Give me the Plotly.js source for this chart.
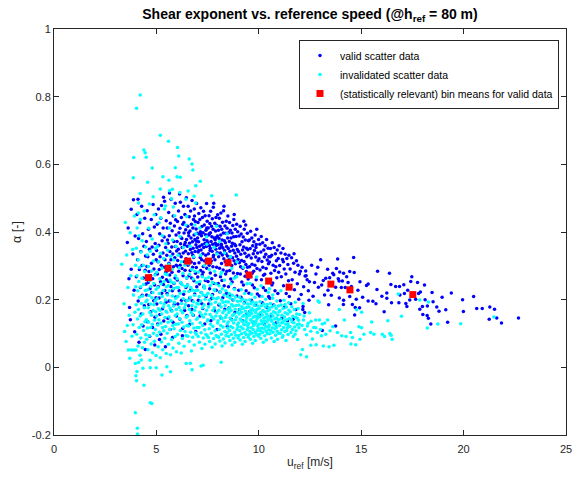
<!DOCTYPE html>
<html>
<head>
<meta charset="utf-8">
<script src="https://cdn.plot.ly/plotly-3.0.1.min.js"></script>
<style>html,body{margin:0;padding:0;background:#fff;}#chart{width:572px;height:481px;}</style>
</head>
<body>
<div id="chart"></div>
<script>
// ---- data ----
const xTickVals = [0, 5, 10, 15, 20, 25];
const yTickVals = [-0.2, 0, 0.2, 0.4, 0.6, 0.8, 1];
const yTickText = ['-0.2', '0', '0.2', '0.4', '0.6', '0.8', '1'];

// bin means (statistically relevant, valid data)
const binU = [4.61, 5.57, 6.53, 7.54, 8.50, 9.52, 10.48, 11.48, 13.52, 14.45, 17.52];
const binAlpha = [0.265, 0.293, 0.314, 0.314, 0.309, 0.273, 0.255, 0.237, 0.246, 0.229, 0.215];

// valid scatter data [u, alpha] - main cloud
const validMain = [
[3.58,0.369],[3.77,0.467],[3.77,0.290],[3.69,0.177],[3.62,0.412],[3.85,0.335],[3.91,0.228],[3.73,0.141],[3.96,0.388],[3.88,0.495],[3.66,0.262],[3.94,0.105],
[4.02,0.268],[4.05,0.452],[4.08,0.318],[4.11,0.196],[4.13,0.381],[4.15,0.074],[4.17,0.289],[4.19,0.427],[4.22,0.236],[4.24,0.342],[4.26,0.158],[4.28,0.476],[4.30,0.301],[4.31,0.213],[4.33,0.395],[4.35,0.122],[4.37,0.264],[4.39,0.358],[4.41,0.182],[4.43,0.441],[4.45,0.287],[4.46,0.053],[4.47,0.329],[4.49,0.246],[4.10,0.497],
[4.51,0.372],[4.52,0.214],[4.54,0.298],[4.55,0.463],[4.57,0.135],[4.58,0.327],[4.60,0.251],[4.61,0.408],[4.63,0.186],[4.64,0.283],[4.66,0.349],[4.67,0.092],[4.69,0.232],[4.70,0.389],[4.72,0.271],[4.73,0.164],[4.75,0.437],[4.76,0.308],[4.78,0.221],[4.79,0.356],[4.81,0.118],[4.82,0.262],[4.84,0.481],[4.85,0.334],[4.87,0.197],[4.88,0.291],[4.90,0.415],[4.91,0.243],[4.93,0.148],[4.94,0.366],[4.96,0.275],[4.97,0.452],[4.98,0.206],[4.99,0.318],[4.92,0.066],
[5.01,0.345],[5.02,0.187],[5.04,0.423],[5.05,0.276],[5.06,0.128],[5.08,0.312],[5.09,0.238],[5.10,0.468],[5.12,0.361],[5.13,0.205],[5.14,0.289],[5.16,0.395],[5.17,0.156],[5.18,0.327],[5.20,0.253],[5.21,0.441],[5.22,0.098],[5.24,0.302],[5.25,0.478],[5.26,0.219],[5.28,0.374],[5.29,0.266],[5.30,0.173],[5.32,0.338],[5.33,0.412],[5.34,0.245],[5.36,0.137],[5.37,0.296],[5.38,0.385],[5.40,0.491],[5.41,0.227],[5.42,0.318],[5.44,0.061],[5.45,0.354],[5.46,0.281],[5.47,0.192],[5.48,0.433],[5.49,0.259],[5.35,0.503],[5.15,0.082],
[5.51,0.331],[5.52,0.218],[5.53,0.412],[5.55,0.287],[5.56,0.145],[5.57,0.367],[5.58,0.254],[5.60,0.458],[5.61,0.308],[5.62,0.196],[5.63,0.389],[5.65,0.273],[5.66,0.342],[5.67,0.112],[5.68,0.426],[5.70,0.239],[5.71,0.318],[5.72,0.497],[5.73,0.168],[5.75,0.356],[5.76,0.281],[5.77,0.404],[5.78,0.226],[5.80,0.335],[5.81,0.133],[5.82,0.447],[5.83,0.297],[5.85,0.372],[5.86,0.248],[5.87,0.186],[5.88,0.418],[5.90,0.324],[5.91,0.264],[5.92,0.485],[5.93,0.357],[5.95,0.208],[5.96,0.391],[5.97,0.302],[5.98,0.152],[5.99,0.344],[5.64,0.515],[5.79,0.088],[5.94,0.436],[5.54,0.376],[5.84,0.232],
[6.01,0.372],[6.02,0.258],[6.03,0.431],[6.04,0.316],[6.05,0.187],[6.07,0.349],[6.08,0.462],[6.09,0.284],[6.10,0.398],[6.11,0.226],[6.12,0.335],[6.14,0.143],[6.15,0.411],[6.16,0.302],[6.17,0.488],[6.18,0.365],[6.19,0.249],[6.21,0.327],[6.22,0.443],[6.23,0.198],[6.24,0.381],[6.25,0.292],[6.26,0.354],[6.28,0.115],[6.29,0.423],[6.30,0.271],[6.31,0.338],[6.32,0.476],[6.33,0.216],[6.35,0.397],[6.36,0.312],[6.37,0.362],[6.38,0.168],[6.39,0.452],[6.40,0.287],[6.42,0.343],[6.43,0.407],[6.44,0.236],[6.45,0.321],[6.46,0.501],[6.47,0.378],[6.48,0.264],[6.49,0.153],[6.13,0.512],[6.27,0.093],[6.34,0.428],[6.41,0.369],[6.06,0.297],[6.20,0.384],[6.44,0.197],
[6.51,0.358],[6.52,0.243],[6.53,0.417],[6.54,0.302],[6.55,0.476],[6.56,0.336],[6.57,0.182],[6.58,0.389],[6.59,0.271],[6.60,0.445],[6.61,0.318],[6.62,0.367],[6.63,0.127],[6.64,0.403],[6.65,0.286],[6.66,0.348],[6.67,0.462],[6.68,0.229],[6.69,0.382],[6.70,0.311],[6.71,0.423],[6.72,0.264],[6.73,0.339],[6.74,0.493],[6.75,0.197],[6.76,0.371],[6.77,0.296],[6.78,0.412],[6.79,0.352],[6.80,0.154],[6.81,0.437],[6.82,0.325],[6.83,0.256],[6.84,0.391],[6.85,0.468],[6.86,0.307],[6.87,0.217],[6.88,0.378],[6.89,0.342],[6.90,0.431],[6.91,0.278],[6.92,0.106],[6.93,0.362],[6.94,0.409],[6.95,0.295],[6.96,0.484],[6.97,0.238],[6.98,0.354],[6.99,0.396],[6.62,0.205],[6.73,0.172],[6.86,0.447],[6.57,0.398],[6.78,0.331],[6.95,0.373],
[7.01,0.382],[7.02,0.267],[7.03,0.428],[7.04,0.341],[7.05,0.198],[7.06,0.371],[7.07,0.455],[7.08,0.309],[7.09,0.394],[7.10,0.246],[7.11,0.358],[7.12,0.437],[7.13,0.152],[7.14,0.325],[7.15,0.401],[7.16,0.286],[7.17,0.472],[7.18,0.347],[7.19,0.221],[7.20,0.389],[7.21,0.318],[7.22,0.416],[7.23,0.362],[7.24,0.273],[7.25,0.443],[7.26,0.174],[7.27,0.336],[7.28,0.398],[7.29,0.298],[7.30,0.461],[7.31,0.354],[7.32,0.238],[7.33,0.377],[7.34,0.421],[7.35,0.314],[7.36,0.128],[7.37,0.366],[7.38,0.448],[7.39,0.257],[7.40,0.392],[7.41,0.331],[7.42,0.405],[7.43,0.209],[7.44,0.357],[7.45,0.484],[7.46,0.293],[7.47,0.374],[7.48,0.432],[7.49,0.319],[7.07,0.345],[7.18,0.396],[7.28,0.281],[7.39,0.365],[7.22,0.188],[7.46,0.412],
[7.51,0.368],[7.52,0.254],[7.53,0.412],[7.54,0.336],[7.55,0.187],[7.56,0.391],[7.57,0.448],[7.58,0.302],[7.59,0.359],[7.60,0.232],[7.61,0.425],[7.62,0.345],[7.63,0.279],[7.64,0.398],[7.65,0.461],[7.66,0.138],[7.67,0.372],[7.68,0.314],[7.69,0.417],[7.70,0.262],[7.71,0.386],[7.72,0.343],[7.73,0.439],[7.74,0.215],[7.75,0.364],[7.76,0.297],[7.77,0.408],[7.78,0.473],[7.79,0.331],[7.80,0.485],[7.81,0.248],[7.82,0.382],[7.83,0.354],[7.84,0.167],[7.85,0.426],[7.86,0.318],[7.87,0.377],[7.88,0.272],[7.89,0.403],[7.90,0.349],[7.91,0.443],[7.92,0.228],[7.93,0.361],[7.94,0.296],[7.95,0.419],[7.96,0.112],[7.97,0.339],[7.98,0.388],[7.99,0.451],[7.58,0.395],[7.68,0.203],[7.78,0.326],[7.88,0.367],[7.63,0.352],[7.93,0.384],
[8.01,0.362],[8.02,0.248],[8.03,0.405],[8.04,0.327],[8.05,0.184],[8.06,0.381],[8.07,0.441],[8.08,0.293],[8.09,0.352],[8.10,0.223],[8.11,0.417],[8.12,0.338],[8.13,0.268],[8.14,0.391],[8.15,0.456],[8.16,0.146],[8.17,0.364],[8.18,0.307],[8.19,0.408],[8.20,0.257],[8.21,0.376],[8.22,0.332],[8.23,0.429],[8.24,0.206],[8.25,0.353],[8.26,0.288],[8.27,0.397],[8.28,0.463],[8.29,0.321],[8.31,0.241],[8.32,0.374],[8.33,0.345],[8.34,0.172],[8.35,0.418],[8.36,0.312],[8.37,0.368],[8.38,0.276],[8.39,0.396],[8.40,0.336],[8.41,0.432],[8.42,0.219],[8.43,0.357],[8.44,0.284],[8.45,0.411],[8.46,0.121],[8.47,0.329],[8.48,0.382],[8.49,0.447],[8.30,0.476],[8.18,0.358],
[8.51,0.351],[8.52,0.238],[8.53,0.398],[8.54,0.318],[8.55,0.176],[8.56,0.372],[8.57,0.428],[8.58,0.286],[8.59,0.343],[8.60,0.214],[8.61,0.405],[8.62,0.327],[8.63,0.261],[8.64,0.382],[8.66,0.142],[8.67,0.358],[8.68,0.301],[8.69,0.397],[8.70,0.252],[8.71,0.367],[8.72,0.324],[8.73,0.419],[8.74,0.199],[8.75,0.346],[8.76,0.279],[8.77,0.386],[8.78,0.437],[8.79,0.315],[8.81,0.233],[8.82,0.364],[8.83,0.338],[8.84,0.163],[8.85,0.408],[8.86,0.306],[8.87,0.359],[8.88,0.268],[8.89,0.387],[8.91,0.328],[8.92,0.423],[8.93,0.211],[8.95,0.348],[8.96,0.277],[8.97,0.401],[8.99,0.319],[8.80,0.452],
[9.01,0.342],[9.02,0.228],[9.04,0.388],[9.05,0.309],[9.06,0.171],[9.08,0.362],[9.09,0.417],[9.10,0.276],[9.12,0.334],[9.13,0.207],[9.14,0.394],[9.16,0.316],[9.17,0.252],[9.18,0.371],[9.20,0.138],[9.21,0.347],[9.22,0.293],[9.24,0.385],[9.25,0.243],[9.26,0.356],[9.28,0.313],[9.29,0.408],[9.30,0.191],[9.32,0.337],[9.33,0.269],[9.34,0.376],[9.36,0.421],[9.37,0.304],[9.38,0.226],[9.40,0.352],[9.41,0.327],[9.42,0.157],[9.44,0.396],[9.45,0.296],[9.46,0.348],[9.48,0.261],[9.49,0.374],[9.27,0.432],[9.11,0.297],[9.39,0.283],
[9.51,0.331],[9.52,0.219],[9.54,0.376],[9.55,0.297],[9.57,0.166],[9.58,0.351],[9.60,0.402],[9.61,0.268],[9.63,0.323],[9.64,0.198],[9.66,0.382],[9.67,0.305],[9.69,0.243],[9.70,0.359],[9.72,0.133],[9.73,0.336],[9.75,0.284],[9.76,0.371],[9.78,0.235],[9.79,0.345],[9.81,0.302],[9.82,0.391],[9.84,0.184],[9.85,0.326],[9.87,0.259],[9.88,0.363],[9.90,0.408],[9.91,0.292],[9.93,0.217],[9.94,0.338],[9.96,0.315],[9.97,0.151],[9.99,0.378],[9.68,0.278],[9.86,0.354],
[10.01,0.321],[10.03,0.211],[10.05,0.364],[10.06,0.288],[10.08,0.158],[10.10,0.341],[10.12,0.387],[10.13,0.259],[10.15,0.313],[10.17,0.191],[10.19,0.368],[10.20,0.296],[10.22,0.235],[10.24,0.347],[10.26,0.127],[10.27,0.326],[10.29,0.275],[10.31,0.359],[10.33,0.227],[10.34,0.334],[10.36,0.292],[10.38,0.378],[10.40,0.177],[10.41,0.317],[10.43,0.251],[10.45,0.352],[10.47,0.306],[10.48,0.209],[10.49,0.327],[10.23,0.272],
[10.52,0.311],[10.54,0.204],[10.57,0.351],[10.59,0.278],[10.61,0.152],[10.63,0.331],[10.66,0.368],[10.68,0.249],[10.70,0.302],[10.72,0.184],[10.75,0.354],[10.77,0.286],[10.79,0.226],[10.81,0.336],[10.84,0.131],[10.86,0.315],[10.88,0.265],[10.90,0.347],[10.93,0.218],[10.95,0.322],[10.97,0.281],[10.99,0.359],[10.64,0.243],[10.83,0.297],[10.56,0.327],
[11.02,0.301],[11.05,0.197],[11.08,0.338],[11.10,0.268],[11.13,0.146],[11.16,0.319],[11.18,0.351],[11.21,0.241],[11.24,0.291],[11.26,0.178],[11.29,0.334],[11.32,0.276],[11.34,0.218],[11.37,0.322],[11.40,0.138],[11.42,0.304],[11.45,0.256],[11.47,0.331],[11.49,0.209],[11.20,0.312],
[11.53,0.291],[11.56,0.188],[11.60,0.324],[11.63,0.259],[11.67,0.142],[11.70,0.308],[11.74,0.229],[11.77,0.281],[11.81,0.171],[11.84,0.315],[11.88,0.247],[11.91,0.302],[11.95,0.201],[11.98,0.276],[11.72,0.336],
[12.03,0.284],[12.07,0.215],[12.11,0.296],[12.19,0.238],[12.24,0.162],[12.31,0.271],[12.42,0.226],[12.47,0.253]
];

// valid scatter data [u, alpha] - high-speed tail
const validTail = [
[14.63,0.325],[13.85,0.320],[12.88,0.296],[12.29,0.285],[13.36,0.290],[13.79,0.292],[13.61,0.278],[13.95,0.282],[14.14,0.278],[14.44,0.283],[14.66,0.280],[15.80,0.284],[16.38,0.278],[12.26,0.270],[12.36,0.259],[13.15,0.257],[13.27,0.263],[13.46,0.265],[13.66,0.274],[13.92,0.255],[14.08,0.255],[14.29,0.268],[14.94,0.253],[15.26,0.242],[15.34,0.246],[16.45,0.245],[16.68,0.239],[16.87,0.239],[17.08,0.244],[17.47,0.268],[17.42,0.254],[17.75,0.251],[18.09,0.243],[12.91,0.237],[13.07,0.243],[13.38,0.228],[13.75,0.237],[14.03,0.236],[14.22,0.236],[14.84,0.228],[15.77,0.230],[16.25,0.220],[16.01,0.210],[16.89,0.214],[17.11,0.218],[17.27,0.228],[17.80,0.218],[17.89,0.223],[18.46,0.221],[12.65,0.210],[13.54,0.213],[13.93,0.205],[14.14,0.198],[14.44,0.209],[14.76,0.201],[15.07,0.207],[15.34,0.196],[15.57,0.195],[16.25,0.204],[16.48,0.191],[16.84,0.191],[17.18,0.189],[17.37,0.199],[17.66,0.201],[18.12,0.200],[18.51,0.194],[18.95,0.207],[19.40,0.220],[19.95,0.200],[20.49,0.209],[12.16,0.180],[13.41,0.185],[14.13,0.186],[14.57,0.186],[14.71,0.177],[14.92,0.176],[15.72,0.188],[16.12,0.164],[17.23,0.180],[17.86,0.172],[17.99,0.180],[18.23,0.181],[18.69,0.178],[18.80,0.166],[19.13,0.170],[19.99,0.165],[20.64,0.174],[20.91,0.174],[21.28,0.178],[21.51,0.172],[14.68,0.155],[18.01,0.156],[18.22,0.153],[18.28,0.145],[18.40,0.128],[19.22,0.133],[21.25,0.142],[21.62,0.146],[21.85,0.131],[22.68,0.146],[13.75,0.122],[13.10,0.109],[12.15,0.171],
[12.58,0.302],[12.72,0.251],[13.02,0.318],[13.21,0.214],[13.57,0.246],[13.88,0.262],[14.36,0.251],[14.52,0.239],[12.45,0.198],[12.79,0.276]
];

// invalidated scatter data [u, alpha] - main band
const invalidMain = [
[3.31,0.305],[3.48,0.428],[3.61,0.236],[3.42,0.188],[3.55,0.332],[3.67,0.154],[3.72,0.398],[3.75,0.271],[3.81,0.092],[3.84,0.348],[3.88,0.214],[3.93,0.447],[3.95,0.163],[3.98,0.302],[3.52,0.076],[3.70,0.027],[3.86,0.126],[3.99,0.238],
[4.01,0.185],[4.02,0.352],[4.04,0.098],[4.05,0.271],[4.06,0.412],[4.08,0.143],[4.09,0.226],[4.10,0.063],[4.11,0.318],[4.12,0.171],[4.14,0.254],[4.15,0.389],[4.16,0.118],[4.17,0.207],[4.18,0.295],[4.20,0.036],[4.21,0.152],[4.22,0.437],[4.23,0.238],[4.24,0.087],[4.25,0.341],[4.27,0.189],[4.28,0.126],[4.29,0.263],[4.30,0.374],[4.32,0.058],[4.33,0.211],[4.34,0.158],[4.36,0.302],[4.37,0.109],[4.38,0.245],[4.40,0.462],[4.41,0.176],[4.42,0.074],[4.43,0.283],[4.44,0.135],[4.46,0.227],[4.47,0.356],[4.48,0.096],[4.49,0.194],
[4.51,0.141],[4.52,0.267],[4.53,0.083],[4.54,0.198],[4.55,0.332],[4.56,0.116],[4.58,0.229],[4.59,0.052],[4.60,0.176],[4.61,0.298],[4.62,0.134],[4.63,0.411],[4.64,0.212],[4.65,0.093],[4.66,0.256],[4.68,0.162],[4.69,0.021],[4.70,0.343],[4.71,0.187],[4.72,0.118],[4.73,0.239],[4.74,0.069],[4.76,0.154],[4.77,0.285],[4.78,0.206],[4.79,0.379],[4.80,0.127],[4.81,0.043],[4.83,0.221],[4.84,0.168],[4.85,0.314],[4.86,0.101],[4.87,0.248],[4.88,0.185],[4.89,0.451],[4.90,0.077],[4.91,0.139],[4.93,0.273],[4.94,0.196],[4.95,0.112],[4.96,0.352],[4.97,0.164],[4.98,0.035],[4.99,0.231],[4.57,0.547],
[5.01,0.152],[5.02,0.281],[5.03,0.094],[5.04,0.203],[5.05,0.357],[5.07,0.125],[5.08,0.236],[5.09,0.061],[5.10,0.173],[5.11,0.312],[5.12,0.141],[5.13,0.427],[5.14,0.218],[5.15,0.104],[5.17,0.262],[5.18,0.169],[5.19,0.028],[5.20,0.337],[5.21,0.191],[5.22,0.131],[5.23,0.246],[5.25,0.075],[5.26,0.158],[5.27,0.293],[5.28,0.209],[5.29,0.389],[5.30,0.118],[5.31,0.052],[5.33,0.227],[5.34,0.178],[5.35,0.322],[5.36,0.108],[5.37,0.254],[5.38,0.187],[5.39,0.468],[5.41,0.086],[5.42,0.147],[5.43,0.276],[5.44,0.199],[5.45,0.121],[5.46,0.365],[5.47,0.166],[5.48,0.041],[5.49,0.238],[5.32,0.563],
[5.51,0.163],[5.52,0.274],[5.53,0.101],[5.54,0.214],[5.55,0.346],[5.57,0.133],[5.58,0.241],[5.59,0.068],[5.60,0.182],[5.61,0.305],[5.62,0.149],[5.63,0.412],[5.64,0.226],[5.65,0.112],[5.67,0.258],[5.68,0.174],[5.69,0.037],[5.70,0.328],[5.71,0.197],[5.72,0.138],[5.73,0.252],[5.75,0.082],[5.76,0.166],[5.77,0.289],[5.78,0.211],[5.79,0.376],[5.80,0.124],[5.81,0.057],[5.83,0.232],[5.84,0.181],[5.85,0.317],[5.86,0.114],[5.87,0.249],[5.88,0.192],[5.89,0.448],[5.91,0.091],[5.92,0.153],[5.93,0.271],[5.94,0.204],[5.95,0.127],[5.96,0.358],[5.97,0.171],[5.98,0.046],[5.99,0.236],[5.74,0.498],
[6.01,0.158],[6.02,0.262],[6.03,0.097],[6.05,0.209],[6.06,0.331],[6.07,0.128],[6.08,0.236],[6.10,0.071],[6.11,0.177],[6.12,0.294],[6.13,0.144],[6.15,0.387],[6.16,0.219],[6.17,0.109],[6.18,0.251],[6.20,0.168],[6.21,0.042],[6.22,0.312],[6.23,0.189],[6.25,0.133],[6.26,0.244],[6.27,0.085],[6.28,0.161],[6.30,0.278],[6.31,0.203],[6.32,0.354],[6.33,0.119],[6.35,0.062],[6.36,0.224],[6.37,0.176],[6.38,0.302],[6.40,0.106],[6.41,0.239],[6.42,0.185],[6.43,0.421],[6.45,0.094],[6.46,0.148],[6.47,0.265],[6.48,0.197],[6.49,0.124],
[6.51,0.151],[6.52,0.243],[6.53,0.092],[6.55,0.198],[6.56,0.306],[6.57,0.122],[6.58,0.224],[6.60,0.076],[6.61,0.171],[6.62,0.275],[6.63,0.138],[6.65,0.358],[6.66,0.207],[6.67,0.104],[6.68,0.236],[6.70,0.162],[6.71,0.048],[6.72,0.289],[6.73,0.183],[6.75,0.129],[6.76,0.228],[6.77,0.089],[6.78,0.155],[6.80,0.261],[6.81,0.194],[6.82,0.327],[6.83,0.116],[6.85,0.066],[6.86,0.213],[6.87,0.169],[6.88,0.284],[6.90,0.102],[6.91,0.226],[6.92,0.178],[6.93,0.395],[6.95,0.098],[6.96,0.142],[6.97,0.251],[6.98,0.189],[6.99,0.118],
[7.01,0.146],[7.02,0.228],[7.04,0.091],[7.05,0.187],[7.06,0.282],[7.08,0.118],[7.09,0.209],[7.10,0.074],[7.12,0.163],[7.13,0.254],[7.14,0.132],[7.16,0.331],[7.17,0.196],[7.18,0.102],[7.20,0.221],[7.21,0.155],[7.22,0.056],[7.24,0.268],[7.25,0.176],[7.26,0.124],[7.28,0.214],[7.29,0.087],[7.30,0.149],[7.32,0.241],[7.33,0.184],[7.34,0.302],[7.36,0.111],[7.37,0.068],[7.38,0.201],[7.40,0.158],[7.41,0.262],[7.42,0.097],[7.44,0.213],[7.45,0.169],[7.46,0.364],[7.48,0.093],[7.49,0.137],[7.35,0.234],
[7.51,0.141],[7.52,0.219],[7.54,0.088],[7.55,0.178],[7.56,0.266],[7.58,0.114],[7.59,0.198],[7.60,0.076],[7.62,0.156],[7.63,0.242],[7.64,0.127],[7.66,0.308],[7.67,0.187],[7.68,0.101],[7.70,0.212],[7.71,0.149],[7.72,0.059],[7.74,0.251],[7.75,0.168],[7.76,0.121],[7.78,0.204],[7.79,0.085],[7.80,0.143],[7.82,0.229],[7.83,0.176],[7.84,0.284],[7.86,0.108],[7.87,0.069],[7.88,0.192],[7.90,0.152],[7.91,0.247],[7.92,0.094],[7.94,0.203],[7.95,0.162],[7.96,0.335],[7.98,0.091],[7.99,0.131],[7.85,0.226],
[8.01,0.138],[8.02,0.206],[8.04,0.089],[8.05,0.169],[8.06,0.241],[8.07,0.112],[8.09,0.187],[8.10,0.078],[8.11,0.151],[8.12,0.223],[8.14,0.124],[8.15,0.276],[8.16,0.178],[8.17,0.098],[8.19,0.199],[8.20,0.144],[8.21,0.063],[8.22,0.232],[8.24,0.161],[8.25,0.119],[8.26,0.192],[8.27,0.084],[8.29,0.136],[8.30,0.214],[8.31,0.167],[8.32,0.258],[8.34,0.106],[8.35,0.072],[8.36,0.183],[8.37,0.147],[8.39,0.226],[8.40,0.093],[8.41,0.194],[8.42,0.155],[8.44,0.302],[8.45,0.102],[8.46,0.128],[8.47,0.209],[8.49,0.171],[8.48,0.116],
[8.51,0.134],[8.52,0.193],[8.53,0.091],[8.54,0.162],[8.56,0.218],[8.57,0.109],[8.58,0.176],[8.59,0.079],[8.60,0.146],[8.61,0.204],[8.63,0.121],[8.64,0.247],[8.65,0.168],[8.66,0.097],[8.67,0.186],[8.69,0.139],[8.70,0.066],[8.71,0.213],[8.72,0.154],[8.73,0.117],[8.75,0.181],[8.76,0.086],[8.77,0.131],[8.78,0.199],[8.80,0.158],[8.81,0.231],[8.82,0.104],[8.83,0.074],[8.85,0.172],[8.86,0.141],[8.87,0.208],[8.88,0.095],[8.90,0.183],[8.91,0.149],[8.92,0.268],[8.93,0.112],[8.95,0.126],[8.96,0.195],[8.97,0.163],[8.98,0.119],[8.99,0.087],[8.68,0.292],
[9.01,0.131],[9.02,0.184],[9.03,0.094],[9.04,0.158],[9.06,0.207],[9.07,0.108],[9.08,0.171],[9.09,0.081],[9.10,0.143],[9.11,0.196],[9.13,0.119],[9.14,0.229],[9.15,0.163],[9.16,0.099],[9.17,0.179],[9.19,0.136],[9.20,0.068],[9.21,0.201],[9.22,0.151],[9.23,0.114],[9.25,0.174],[9.26,0.088],[9.27,0.128],[9.28,0.189],[9.30,0.154],[9.31,0.218],[9.32,0.103],[9.33,0.076],[9.35,0.166],[9.36,0.138],[9.37,0.198],[9.38,0.097],[9.40,0.177],[9.41,0.146],[9.42,0.247],[9.43,0.111],[9.45,0.124],[9.46,0.187],[9.47,0.159],[9.48,0.117],[9.49,0.089],[9.12,0.141],[9.29,0.126],[9.39,0.134],[9.44,0.152],
[9.51,0.129],[9.52,0.178],[9.53,0.096],[9.54,0.153],[9.56,0.199],[9.57,0.106],[9.58,0.166],[9.59,0.083],[9.60,0.141],[9.61,0.188],[9.63,0.117],[9.64,0.216],[9.65,0.159],[9.66,0.101],[9.67,0.173],[9.69,0.133],[9.70,0.071],[9.71,0.193],[9.72,0.148],[9.73,0.112],[9.75,0.169],[9.76,0.091],[9.77,0.126],[9.78,0.183],[9.80,0.151],[9.81,0.207],[9.82,0.104],[9.83,0.079],[9.85,0.162],[9.86,0.136],[9.87,0.191],[9.88,0.098],[9.90,0.171],[9.91,0.143],[9.92,0.231],[9.93,0.109],[9.95,0.122],[9.96,0.181],[9.97,0.156],[9.98,0.115],[9.99,0.092],[9.62,0.139],[9.74,0.124],[9.84,0.131],[9.94,0.147],
[10.01,0.127],[10.02,0.174],[10.04,0.098],[10.05,0.149],[10.06,0.194],[10.08,0.108],[10.09,0.162],[10.10,0.085],[10.12,0.138],[10.13,0.182],[10.14,0.116],[10.16,0.209],[10.17,0.155],[10.18,0.103],[10.20,0.168],[10.21,0.131],[10.22,0.074],[10.24,0.187],[10.25,0.145],[10.26,0.113],[10.28,0.164],[10.29,0.093],[10.30,0.124],[10.32,0.178],[10.33,0.148],[10.34,0.201],[10.36,0.106],[10.37,0.081],[10.38,0.158],[10.40,0.134],[10.41,0.186],[10.42,0.099],[10.44,0.167],[10.45,0.141],[10.46,0.222],[10.47,0.111],[10.48,0.121],[10.49,0.176],[10.15,0.129],[10.27,0.137],[10.35,0.119],[10.43,0.152],
[10.51,0.125],[10.52,0.171],[10.54,0.099],[10.55,0.146],[10.57,0.189],[10.58,0.109],[10.60,0.158],[10.61,0.087],[10.63,0.136],[10.64,0.178],[10.66,0.117],[10.67,0.204],[10.69,0.152],[10.70,0.104],[10.72,0.164],[10.73,0.129],[10.75,0.076],[10.76,0.183],[10.78,0.143],[10.79,0.114],[10.81,0.161],[10.82,0.095],[10.84,0.123],[10.85,0.174],[10.87,0.146],[10.88,0.196],[10.90,0.107],[10.91,0.083],[10.93,0.155],[10.94,0.132],[10.96,0.181],[10.97,0.101],[10.99,0.164],[10.62,0.139],[10.74,0.127],[10.86,0.118],[10.95,0.141],[10.68,0.214],
[11.01,0.123],[11.03,0.167],[11.05,0.101],[11.07,0.143],[11.09,0.184],[11.11,0.111],[11.13,0.154],[11.15,0.089],[11.17,0.134],[11.19,0.174],[11.21,0.118],[11.23,0.198],[11.25,0.149],[11.27,0.106],[11.29,0.161],[11.31,0.127],[11.33,0.079],[11.35,0.178],[11.37,0.141],[11.39,0.116],[11.41,0.158],[11.43,0.097],[11.45,0.122],[11.47,0.169],[11.49,0.144],[11.12,0.131],[11.24,0.138],[11.36,0.109],[11.46,0.191],[11.18,0.093],[11.28,0.186],[11.42,0.129],
[11.52,0.121],[11.54,0.164],[11.57,0.103],[11.59,0.141],[11.61,0.179],[11.64,0.112],[11.66,0.151],[11.68,0.091],[11.71,0.132],[11.73,0.171],[11.75,0.119],[11.78,0.192],[11.80,0.147],[11.82,0.108],[11.85,0.158],[11.87,0.126],[11.89,0.082],[11.92,0.174],[11.94,0.139],[11.96,0.117],[11.99,0.156],[11.63,0.134],[11.77,0.098],[11.88,0.145],[11.97,0.128],
[7.12,0.412],[7.45,0.386],[7.82,0.354],[8.08,0.372],[8.33,0.338],[8.62,0.327],[8.94,0.311],[9.24,0.296],[6.48,0.446],[6.88,0.421],[5.83,0.474],[5.21,0.442],[4.66,0.483],[4.12,0.456],[7.58,0.289],[8.18,0.281],[8.79,0.263],[9.57,0.248],[10.11,0.241],[10.52,0.232],[11.08,0.226],[9.89,0.267],[7.93,0.417],[8.45,0.395]
];

// invalidated scatter data [u, alpha] - outliers (high and negative)
const invalidOutliers = [
[4.21,0.805],[4.03,0.766],[5.19,0.686],[5.59,0.668],[6.03,0.650],[4.39,0.642],[4.45,0.634],[3.89,0.620],[4.50,0.621],[6.09,0.625],[6.60,0.616],[6.74,0.601],[4.80,0.589],[5.92,0.590],[6.78,0.583],[3.87,0.560],[6.01,0.563],[6.16,0.562],[5.61,0.553],[7.15,0.550],[6.92,0.537],[5.19,0.527],[5.64,0.522],[5.78,0.526],[6.14,0.517],[6.55,0.521],[4.21,0.514],[4.84,0.504],[7.70,0.507],[8.90,0.509],[6.84,0.506],[6.44,0.497],[4.13,0.486],[6.92,0.486],[5.44,0.477],
[3.97,-0.134],[4.07,-0.180],[4.08,-0.197],[4.39,-0.053],[4.70,-0.105],[4.78,-0.107],[5.27,-0.023],[4.03,-0.040],[4.00,-0.025],[4.05,-0.012],[4.13,0.014],[3.97,0.011],[4.26,0.022],[4.34,-0.003],[4.70,-0.001],[4.99,-0.001],[5.51,0.002],[5.69,-0.013],[6.74,-0.007],[7.18,0.004],[7.28,0.006],[8.16,0.015],[6.45,0.011],[6.66,0.012],[12.33,0.031],[12.13,0.053],[12.05,0.037],[3.63,0.051],[3.78,0.051],[3.89,0.051],[4.00,0.051],[3.58,0.124],[3.45,0.106]
];

// invalidated scatter data [u, alpha] - high-speed part
const invalidTail = [
[12.16,0.189],[12.89,0.196],[12.95,0.192],[12.18,0.140],[12.41,0.130],[12.55,0.136],[12.78,0.140],[12.96,0.140],[13.10,0.128],[13.36,0.140],[14.18,0.140],[13.93,0.171],[14.78,0.170],[15.02,0.163],[15.51,0.134],[16.30,0.138],[16.97,0.151],[16.81,0.217],[17.86,0.199],[18.28,0.193],[18.74,0.128],[19.86,0.129],[21.48,0.149],[18.23,0.116],
[12.11,0.124],[12.37,0.122],[12.24,0.112],[12.54,0.107],[12.78,0.117],[12.86,0.103],[13.06,0.093],[13.27,0.098],[13.61,0.120],[13.84,0.103],[14.05,0.093],[14.26,0.091],[14.48,0.103],[14.57,0.088],[14.89,0.120],[15.02,0.117],[15.13,0.098],[14.94,0.083],[15.46,0.103],[15.62,0.098],[16.03,0.098],[16.14,0.091],[16.40,0.100],[16.46,0.095],[16.51,0.083],[14.50,0.069],[14.73,0.067],[13.67,0.065],[13.15,0.063],[13.43,0.061],[12.80,0.067],[12.54,0.065],
[12.21,0.152],[12.47,0.161],[12.68,0.118],[12.33,0.096],[12.62,0.084],[13.01,0.112],[13.48,0.108],[13.22,0.131]
];

// ---- build traces through Plotly scales ----
const validAll = validMain.concat(validTail);
const invalidAll = invalidMain.concat(invalidOutliers, invalidTail);

const font = 'Liberation Sans, Arial, Helvetica, sans-serif';
const ink = '#262626';

const traces = [
  {
    type: 'scatter', mode: 'markers', name: 'valid scatter data',
    x: validAll.map(p => p[0]), y: validAll.map(p => p[1]),
    marker: {color: '#0000ff', size: 3.5, line: {width: 0}}
  },
  {
    type: 'scatter', mode: 'markers', name: 'invalidated scatter data',
    x: invalidAll.map(p => p[0]), y: invalidAll.map(p => p[1]),
    marker: {color: '#00ffff', size: 3.5, line: {width: 0}}
  },
  {
    type: 'scatter', mode: 'markers', name: '(statistically relevant) bin means for valid data',
    x: binU, y: binAlpha,
    marker: {color: '#ff0000', size: 7, symbol: 'square', line: {width: 0}}
  }
];

const axisCommon = {
  showline: true, linecolor: ink, linewidth: 1, mirror: 'ticks',
  ticks: 'inside', ticklen: 5, tickwidth: 1, tickcolor: ink,
  showgrid: false, zeroline: false, ticklabeloverflow: 'allow',
  tickfont: {family: font, size: 11, color: ink}
};

const layout = {
  width: 572, height: 481,
  paper_bgcolor: '#ffffff', plot_bgcolor: '#ffffff',
  margin: {l: 54, r: 6, t: 29, b: 46, pad: 0, autoexpand: false},
  showlegend: true,
  title: {
    text: 'Shear exponent vs. reference speed (@h<sub>ref</sub> = 80 m)',
    font: {family: font, size: 14, color: '#000000', weight: 'bold'},
    x: 0.5, xref: 'paper', xanchor: 'center',
    y: 0.971, yref: 'container', yanchor: 'middle'
  },
  xaxis: Object.assign({}, axisCommon, {
    range: [0, 25], tickvals: xTickVals, autorange: false, ticklabelstandoff: 4,
    title: {text: 'u<sub>ref</sub> [m/s]', font: {family: font, size: 12, color: ink}, standoff: 3}
  }),
  yaxis: Object.assign({}, axisCommon, {
    range: [-0.2, 1], tickvals: yTickVals, ticktext: yTickText, autorange: false,
    title: {text: '\u03b1 [-]', font: {family: font, size: 12.5, color: ink}, standoff: 7}
  }),
  legend: {
    x: 0.4785, y: 0.973, xanchor: 'left', yanchor: 'top',
    bgcolor: '#ffffff', bordercolor: ink, borderwidth: 1,
    font: {family: font, size: 10.5, color: '#000000'},
    itemclick: false, itemdoubleclick: false
  }
};

Plotly.newPlot('chart', traces, layout, {displayModeBar: false, staticPlot: true});
</script>
</body>
</html>
